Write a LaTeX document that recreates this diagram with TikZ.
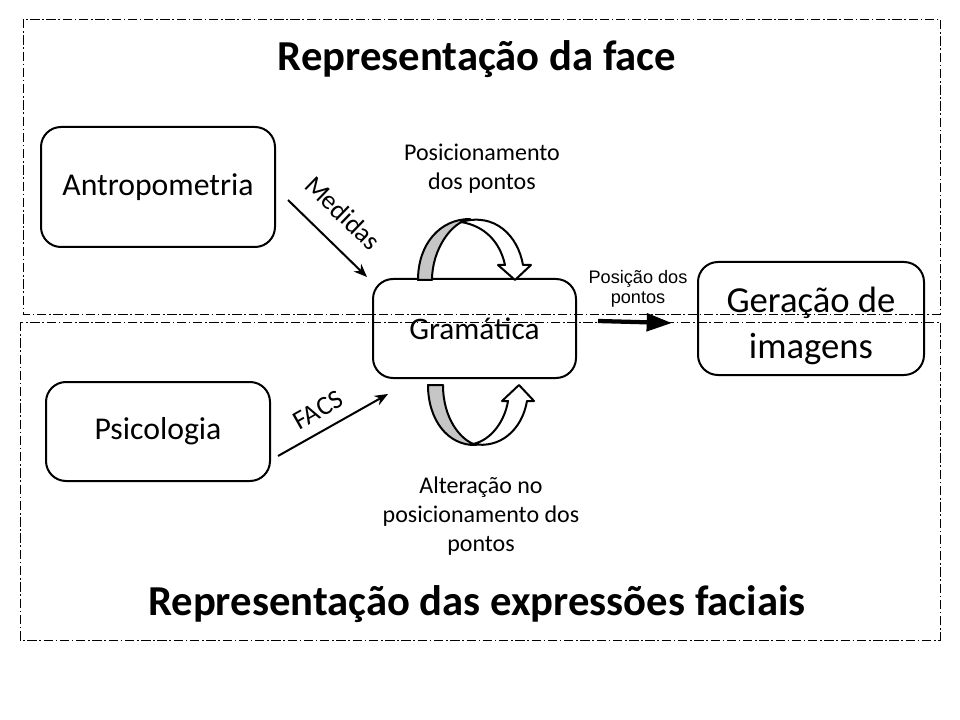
\documentclass[tikz,border=0pt]{standalone}
\usepackage{fontspec}
\setmainfont{Carlito}
\newfontfamily\arialfont{Liberation Sans}
\usetikzlibrary{arrows.meta}
\tikzset{
  caixa/.style={draw, line width=1.5pt, rounded corners=15pt, align=center, inner sep=0pt},
  moldura/.style={line width=0.7pt, dash pattern=on 7pt off 2pt on 1.2pt off 2pt},
  seta/.style={-{Stealth[length=10pt,width=8pt]}, line width=1.5pt},
  fita/.style={line width=1.5pt, line join=round},
  rotulo/.style={font=\fontsize{18}{21.5}\selectfont, align=center},
  titulo/.style={font=\fontsize{32}{38}\selectfont\bfseries}
}
\begin{document}
\begin{tikzpicture}[x=0.75pt, y=-0.75pt]
\useasboundingbox (0,0) rectangle (960,720);
\draw[moldura] (23,19) rectangle (940,314);
\draw[moldura] (20,322) rectangle (940,640);
\node[titulo] (face) at (477,59) {Representação da face};
\node[titulo] (expr) at (477,604) {Representação das expressões faciais};

\node[caixa, minimum width=175.5pt, minimum height=90pt, font=\fontsize{23.8}{28}\selectfont] (antro) at (158,187) {Antropometria};
\node[caixa, minimum width=168pt, minimum height=74.25pt, font=\fontsize{23.8}{28}\selectfont] (psico) at (158,431.5) {Psicologia};
\node[caixa, minimum width=152.25pt, minimum height=74.25pt, font=\fontsize{23.5}{28}\selectfont] (gram) at (474.5,328.5) {Gramática};
\node[caixa, minimum width=169.5pt, minimum height=84.75pt, font=\fontsize{27.5}{34.5}\selectfont] (geracao) at (811,318.5) {\rule{0pt}{30pt}Geração de\\imagens};

\coordinate (med-ini) at (288,200);
\coordinate (med-fim) at (367,277);
\draw[seta] (med-ini) -- (med-fim);
\node[rotulo, font=\fontsize{20}{24}\selectfont, rotate=-44] (medidas) at (343,213) {Medidas};

\coordinate (facs-ini) at (278,456);
\coordinate (facs-fim) at (388,394);
\draw[seta] (facs-ini) -- (facs-fim);
\node[rotulo, font=\fontsize{20}{24}\selectfont, rotate=29.5] (facs) at (318,410) {FACS};

\coordinate (pos-ini) at (598,321);
\coordinate (pos-fim) at (672,323);
\draw[-{Triangle[length=19pt,width=13pt]}, line width=3.2pt] (pos-ini) -- (pos-fim);
\node[font=\arialfont\fontsize{13.6}{15}\selectfont, align=center] (posicao) at (638,289) {Posição dos\\pontos};

\draw[fita, fill=gray!45] (418,280) .. controls (418,244) and (440,219) .. (470,219)
  .. controls (451,222) and (432,250) .. (432,280) -- cycle;
\draw[fita, fill=white] (461,222) .. controls (495,212) and (518,236) .. (523,265) -- (531,265)
  -- (515,280) -- (498,265) -- (505,265) .. controls (500,242) and (485,226) .. (461,222) -- cycle;
\node[rotulo] (posic) at (482,169) {Posicionamento\\dos pontos};

\draw[fita, fill=gray!45] (428,385) .. controls (428,420) and (448,446) .. (476,445)
  .. controls (460,440) and (443,418) .. (443,385) -- cycle;
\draw[fita, fill=white] (473,444) .. controls (492,440) and (505,420) .. (508,401) -- (502,401)
  -- (519,385) -- (534,401) -- (527,401) .. controls (522,430) and (500,449) .. (473,444) -- cycle;
\node[rotulo, font=\fontsize{18}{22}\selectfont] (alter) at (481,516) {Alteração no\\posicionamento dos\\pontos};
\end{tikzpicture}
\end{document}
